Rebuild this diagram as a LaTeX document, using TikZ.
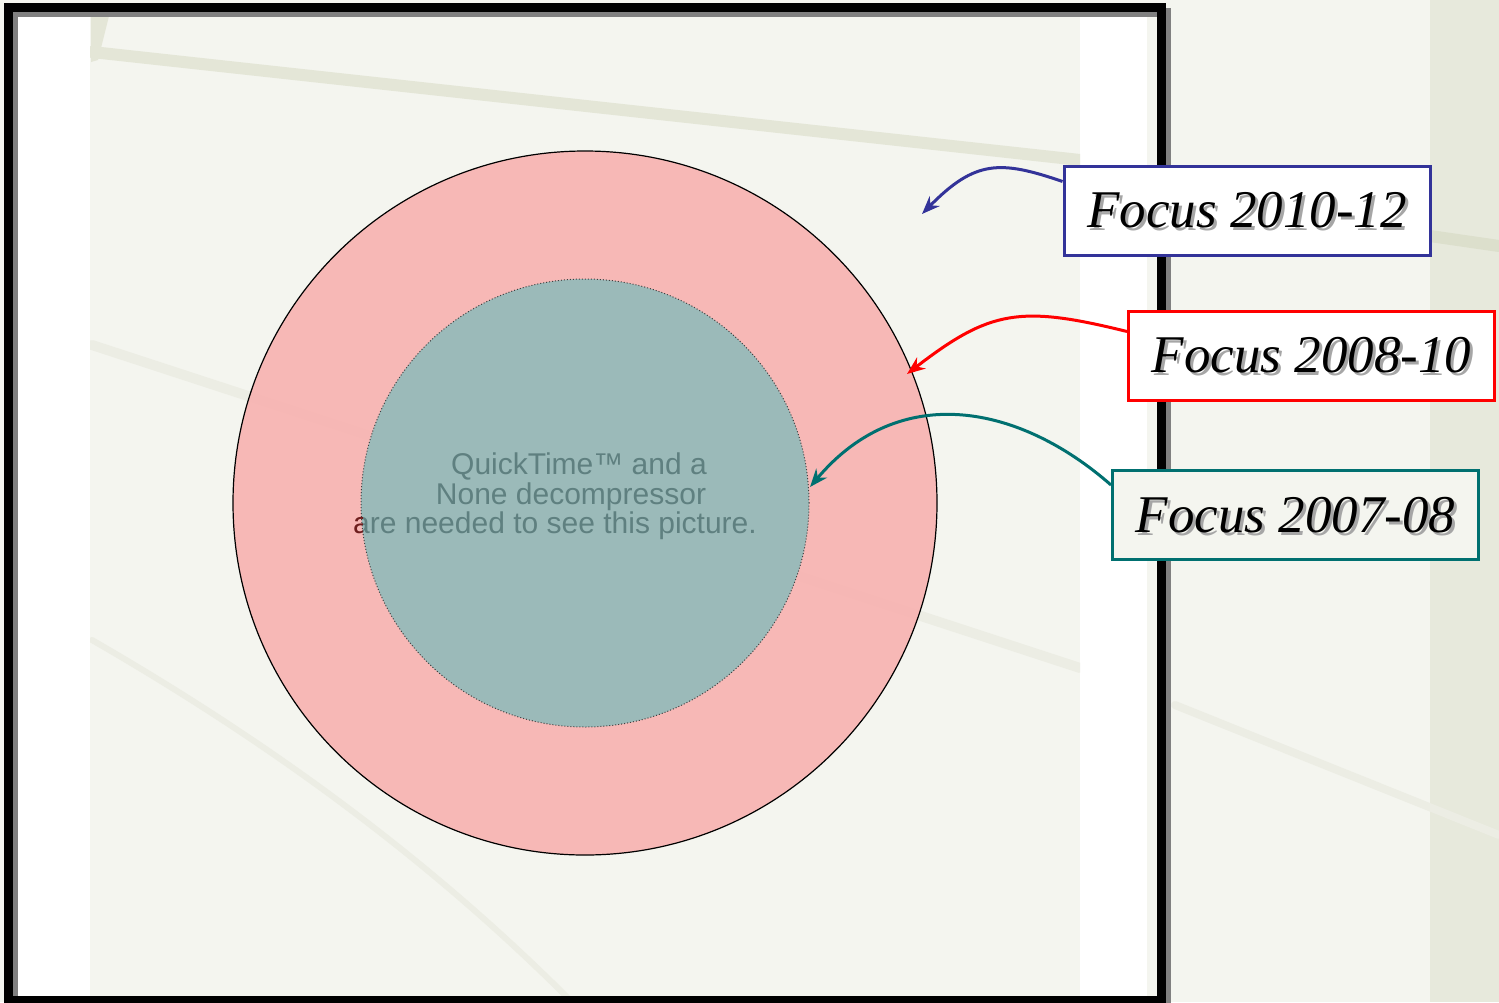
\documentclass[tikz,border=0pt]{standalone}
\usepackage{fontspec}
\setmainfont{Liberation Serif}
\newfontfamily\arialf{Liberation Sans}
\usetikzlibrary{arrows.meta,calc}
\definecolor{bgc}{HTML}{F4F5EF}
\definecolor{bandc}{HTML}{E7E9DC}
\definecolor{streakc}{HTML}{ECEDE4}
\definecolor{streakd}{HTML}{E4E6D7}
\definecolor{streake}{HTML}{DCDFCC}
\definecolor{pinkc}{HTML}{F8B2B0}
\definecolor{tealfill}{HTML}{9BBAB9}
\definecolor{qtgray}{HTML}{5F8080}
\definecolor{qtred}{HTML}{6E1E1E}
\definecolor{blueb}{HTML}{333399}
\definecolor{redb}{HTML}{FF0000}
\definecolor{tealb}{HTML}{007070}
\tikzset{
  labelbox/.style={draw, line width=1.5pt, minimum width=183pt, minimum height=44.5pt, inner sep=0pt},
  ftext/.style={font=\fontsize{26.5}{30}\selectfont\itshape, inner sep=0pt},
  fshadow/.style={ftext, text=black!35},
  qtext/.style={font=\arialf\fontsize{15}{15}\selectfont, inner sep=0pt, anchor=base},
  conn/.style={line width=1.5pt, -{Stealth[length=9pt,width=7pt]}},
  streak/.style={streakc, line width=6pt, line cap=round}
}
\begin{document}
\begin{tikzpicture}[x=0.5pt,y=-0.5pt]
\useasboundingbox (0,0) rectangle (1499,1002);
% background
\fill[bgc] (0,0) rectangle (1499,1002);
\fill[bandc] (1430,0) rectangle (1499,1002);
\draw[streak, streake] (1430,236) -- (1499,246);
\draw[streak, line width=4pt] (1175,705) -- (1499,835);
% white strips inside frame
\fill[white] (13,12) rectangle (90,996);
\fill[white] (1080,12) rectangle (1147,996);
% faint streaks in main area
\begin{scope}
  \clip (90,12) rectangle (1080,996);
  \draw[streak, streakd] (92,52) -- (1080,160);
  \draw[streak, line width=5pt] (92,345) -- (1080,668);
  \draw[streak, line width=3pt] (92,640) .. controls (300,760) and (450,880) .. (570,1000);
  \fill[streakd] (91,12) -- (110,12) -- (98,60) -- (91,62) -- cycle;
\end{scope}
% frame
\draw[line width=4.5pt, black!50] (13.5,12.5) rectangle (1166.5,1005.5);
\draw[line width=4.5pt, black] (8.5,7.5) rectangle (1161.5,1000.5);
% circles
\node[circle, draw=black, line width=0.6pt, fill=pinkc, fill opacity=0.9, minimum size=352pt, inner sep=0pt] (outer) at (585,503) {};
\node[circle, draw=black!75, densely dotted, line width=0.5pt, fill=tealfill, minimum size=224pt, inner sep=0pt] (inner) at (585,503) {};
% QuickTime text
\node[qtext, text=qtgray] (q1) at (579,474) {QuickTime™ and a};
\node[qtext, text=qtgray] (q2) at (571,504) {None decompressor};
\begin{scope}
  \clip (362,505) rectangle (800,545);
  \node[qtext, text=qtgray] (q3) at (555,533) {are needed to see this picture.};
\end{scope}
\begin{scope}
  \clip (340,505) rectangle (362,545);
  \node[qtext, text=qtred] (q3r) at (555,533) {are needed to see this picture.};
\end{scope}
% label boxes
\node[labelbox, draw=blueb, fill=white] (b1) at (1247,210.5) {};
\node[fshadow] (b1s) at ($(b1)+(3,3)$) {Focus 2010-12};
\node[ftext] (b1t) at (b1) {Focus 2010-12};
\node[labelbox, draw=redb, fill=white] (b2) at (1311.5,355.5) {};
\node[fshadow] (b2s) at ($(b2)+(3,3)$) {Focus 2008-10};
\node[ftext] (b2t) at (b2) {Focus 2008-10};
\node[labelbox, draw=tealb, fill=bgc] (b3) at (1295.5,515) {};
\node[fshadow] (b3s) at ($(b3)+(3,3)$) {Focus 2007-08};
\node[ftext] (b3t) at (b3) {Focus 2007-08};
% connectors
\coordinate (t1) at (922,214);
\coordinate (t2) at (907,374);
\coordinate (t3) at (810,487);
\draw[conn, blueb] ($(b1.north west)+(0,17)$) .. controls (1000,160) and (975,160) .. (t1);
\draw[conn, redb] ($(b2.north west)+(0,22)$) .. controls (1020,305) and (990,310) .. (t2);
\draw[conn, tealb] ($(b3.north west)+(0,16)$) .. controls (1020,405) and (900,380) .. (t3);
\end{tikzpicture}
\end{document}
